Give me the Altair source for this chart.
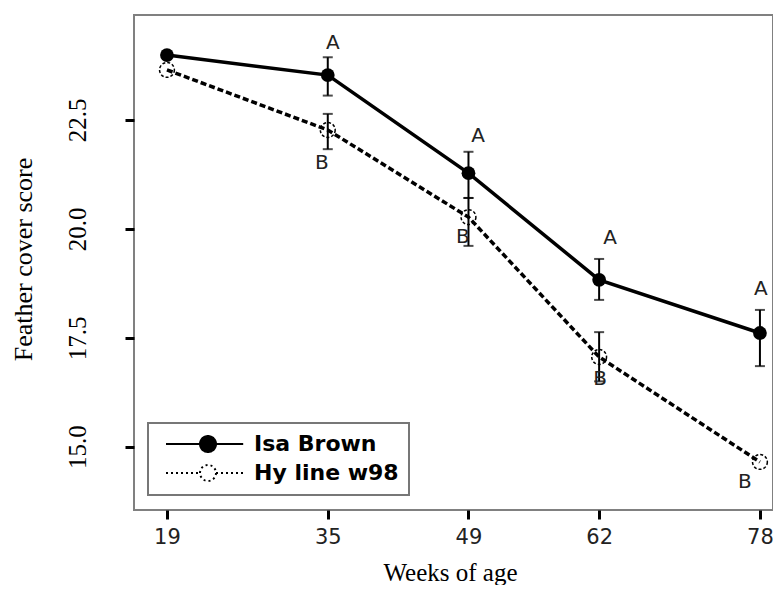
import altair as alt
import pandas as pd

# ---- data ----
weeks = [19, 35, 49, 62, 78]
series_names = ["Isa Brown", "Hy line w98"]

isa_mean = [23.99, 23.53, 21.28, 18.83, 17.61]
hy_mean = [23.65, 22.27, 20.27, 17.06, 14.65]

isa_low = [None, 23.06, 20.71, 18.37, 16.85]
isa_high = [None, 23.94, 21.77, 19.31, 18.14]
hy_low = [None, 21.83, 19.61, 16.50, None]
hy_high = [None, 22.64, 20.71, 17.63, None]

# significance letters (annotation anchor in data units)
letter_text = ["A", "A", "A", "A", "B", "B", "B", "B"]
letter_week = [35.5, 49.95, 63.1, 78.1, 34.4, 48.45, 62.1, 76.5]
letter_score = [24.27, 22.14, 19.78, 18.62, 21.51, 19.81, 16.55, 14.20]

y_ticks = [15.0, 17.5, 20.0, 22.5]

# ---- tables ----
rows = []
for name, means, lows, highs in [
    (series_names[0], isa_mean, isa_low, isa_high),
    (series_names[1], hy_mean, hy_low, hy_high),
]:
    for w, m, lo, hi in zip(weeks, means, lows, highs):
        rows.append({"series": name, "week": w, "mean": m, "low": lo, "high": hi})
df = pd.DataFrame(rows)
err_df = df.dropna(subset=["low"])
lab_df = pd.DataFrame({"week": letter_week, "mean": letter_score, "text": letter_text})

# ---- scales / axes ----
x_scale = alt.Scale(domain=[15.72, 79.3], nice=False, zero=False)
y_scale = alt.Scale(domain=[13.547, 24.91], nice=False, zero=False)

x_axis = alt.Axis(
    values=weeks, format="d", title="Weeks of age", domain=False, grid=False,
    tickColor="black", tickWidth=3, tickSize=9,
    labelFont="DejaVu Sans", labelFontSize=21, labelColor="#222",
    labelPadding=7, labelBaseline="top", labelFlush=False,
    titleFont="Liberation Serif", titleFontSize=25, titleFontWeight="normal",
    titleColor="black", titleX=316, titleY=70, titleAlign="center",
    titleBaseline="alphabetic",
)
y_axis = alt.Axis(
    values=y_ticks, format=".1f", title="Feather cover score", domain=False,
    grid=False, tickColor="black", tickWidth=3, tickSize=9,
    labelFont="Liberation Serif", labelFontSize=25, labelColor="black",
    labelAngle=270, labelAlign="center", labelBaseline="alphabetic",
    labelPadding=40, labelOverlap=False,
    titleFont="Liberation Serif", titleFontSize=26, titleFontWeight="normal",
    titleColor="black", titleAngle=270, titleX=-103, titleY=244,
    titleAlign="center", titleBaseline="alphabetic",
)


def X(field):
    return alt.X(f"{field}:Q", scale=x_scale, axis=x_axis)


def Y(field):
    return alt.Y(f"{field}:Q", scale=y_scale, axis=y_axis)


dash_scale = alt.Scale(domain=series_names, range=[[1, 0], [2, 3]])
fill_scale = alt.Scale(domain=series_names, range=["black", "white"])

LEG_PATH = ("M-5.25,0H-1M1,0H4.4"
            "M1,0A1,1,0,1,1,-1,0A1,1,0,1,1,1,0Z")

leg = alt.Legend(
    title=None, orient="none", legendX=14, legendY=408, direction="vertical",
    padding=10, rowPadding=5, symbolSize=256, symbolStrokeWidth=2,
    symbolStrokeColor="black", symbolFillColor="white", symbolOpacity=1,
    symbolType=LEG_PATH, symbolOffset=39, labelOffset=35,
    labelFont="DejaVu Sans", labelFontSize=22, labelFontWeight="bold",
    labelColor="black", strokeColor="#777",
)

base = alt.Chart(df)
isa_df = base.transform_filter(alt.datum.series == series_names[0])
hy_df = base.transform_filter(alt.datum.series == series_names[1])

rules = alt.Chart(err_df).mark_rule(color="black", strokeWidth=2).encode(
    x=X("week"), y=Y("low"), y2="high"
)
caps_lo = alt.Chart(err_df).mark_tick(
    color="black", orient="horizontal", size=10, thickness=2
).encode(x=X("week"), y=Y("low"))
caps_hi = alt.Chart(err_df).mark_tick(
    color="black", orient="horizontal", size=10, thickness=2
).encode(x=X("week"), y=Y("high"))

isa_line = isa_df.mark_line(color="black", strokeWidth=3.5).encode(
    x=X("week"), y=Y("mean"))
hy_line = hy_df.mark_line(color="black", strokeWidth=3.5, strokeDash=[6, 3]).encode(
    x=X("week"), y=Y("mean"))

hy_pts = hy_df.mark_point(
    shape="circle", filled=False, size=220, stroke="black", strokeWidth=1.5,
    strokeDash=[3, 2], opacity=1,
).encode(x=X("week"), y=Y("mean"))

isa_pts = isa_df.mark_point(
    shape="circle", filled=True, size=190, color="black", opacity=1,
).encode(x=X("week"), y=Y("mean"))

letters = alt.Chart(lab_df).mark_text(
    font="DejaVu Sans", fontSize=20, color="#222", align="center",
    baseline="middle",
).encode(x=X("week"), y=Y("mean"), text="text:N")

legend_layer = base.mark_point(
    shape=LEG_PATH, size=256, filled=True, stroke="black", strokeWidth=2,
    opacity=0,
).encode(
    x=X("week"), y=Y("mean"),
    fill=alt.Fill("series:N", scale=fill_scale, legend=leg),
    strokeDash=alt.StrokeDash("series:N", scale=dash_scale, legend=leg),
)

chart = alt.layer(
    rules, caps_lo, caps_hi, isa_line, hy_line, hy_pts, isa_pts, letters,
    legend_layer
).properties(
    width=639, height=495,
    padding={"left": 126, "top": 7, "right": 0, "bottom": 75},
    autosize=alt.AutoSizeParams(type="none"),
    background="white",
).configure_view(
    stroke="#808080", strokeWidth=2
).configure_legend(strokeWidth=2)

chart.save("out.html", embed_options={"renderer": "svg", "actions": False})
